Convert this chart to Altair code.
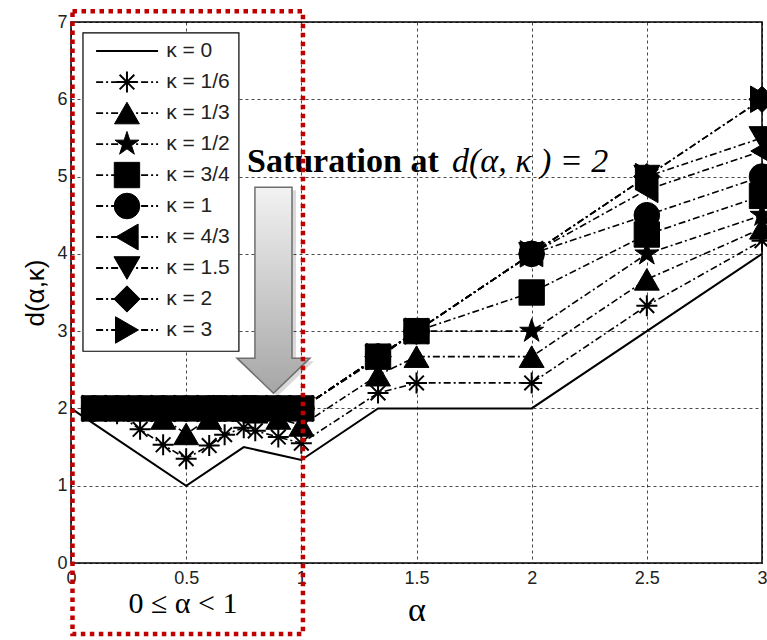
import altair as alt
import pandas as pd

# ---------------- data ----------------
kappa_labels = ["0", "1/6", "1/3", "1/2", "3/4", "1", "4/3", "1.5", "2", "3"]

alpha_k0 = [0.0, 0.5, 0.75, 1.0, 1.333, 2.0, 3.0]
d_k0 = [2.0, 1.0, 1.5, 1.333, 2.0, 2.0, 4.0]

alpha = [0.1, 0.2, 0.3, 0.4, 0.5, 0.6, 0.667, 0.75, 0.8, 0.9, 1.0, 1.333, 1.5, 2.0, 2.5, 3.0]
d_k1_6 = [2.0, 1.93, 1.73, 1.53, 1.35, 1.52, 1.66, 1.75, 1.71, 1.63, 1.55, 2.2, 2.33, 2.33, 3.33, 4.17]
d_k1_3 = [2.0, 2.0, 2.0, 1.87, 1.67, 1.87, 2.0, 2.0, 1.95, 1.87, 1.78, 2.43, 2.67, 2.67, 3.67, 4.33]
d_k1_2 = [2.0, 2.0, 2.0, 2.0, 2.0, 2.0, 2.0, 2.0, 2.0, 2.0, 2.0, 2.65, 3.0, 3.0, 4.0, 4.5]
d_k3_4 = [2.0, 2.0, 2.0, 2.0, 2.0, 2.0, 2.0, 2.0, 2.0, 2.0, 2.0, 2.67, 3.0, 3.5, 4.25, 4.75]
d_k1 = [2.0, 2.0, 2.0, 2.0, 2.0, 2.0, 2.0, 2.0, 2.0, 2.0, 2.0, 2.67, 3.0, 4.0, 4.5, 5.0]
d_k4_3 = [2.0, 2.0, 2.0, 2.0, 2.0, 2.0, 2.0, 2.0, 2.0, 2.0, 2.0, 2.67, 3.0, 4.0, 4.83, 5.33]
d_k1_5 = [2.0, 2.0, 2.0, 2.0, 2.0, 2.0, 2.0, 2.0, 2.0, 2.0, 2.0, 2.67, 3.0, 4.0, 5.0, 5.5]
d_k2 = [2.0, 2.0, 2.0, 2.0, 2.0, 2.0, 2.0, 2.0, 2.0, 2.0, 2.0, 2.67, 3.0, 4.0, 5.0, 6.0]
d_k3 = [2.0, 2.0, 2.0, 2.0, 2.0, 2.0, 2.0, 2.0, 2.0, 2.0, 2.0, 2.67, 3.0, 4.0, 5.0, 6.0]

x_ticks = [0, 0.5, 1, 1.5, 2, 2.5, 3]
y_ticks = [0, 1, 2, 3, 4, 5, 6, 7]

X_TITLE = "α"
Y_TITLE = "d(α,κ)"

# ---------------- tables ----------------
series = [d_k1_6, d_k1_3, d_k1_2, d_k3_4, d_k1, d_k4_3, d_k1_5, d_k2, d_k3]
rows = []
for lab, vals in zip(kappa_labels[1:], series):
    for a, d in zip(alpha, vals):
        rows.append({"alpha": a, "d": d, "kappa": lab})
df = pd.DataFrame(rows)
df0 = pd.DataFrame({"alpha": alpha_k0, "d": d_k0})

STAR = ("M0,-1L0.2245,-0.309L0.951,-0.309L0.363,0.118L0.588,0.809L0,0.382"
        "L-0.588,0.809L-0.363,0.118L-0.951,-0.309L-0.2245,-0.309Z")
ASTER = "M-1,0L1,0M0,-1L0,1M-0.7,-0.7L0.7,0.7M-0.7,0.7L0.7,-0.7"
ARROW = "M-0.18,-1L0.18,-1L0.18,0.66L0.354,0.66L0,1L-0.354,0.66L-0.18,0.66Z"

filled_labels = kappa_labels[2:]
shape_range = ["triangle-up", STAR, "square", "circle", "triangle-left",
               "triangle-down", "diamond", "triangle-right"]
size_range = [620, 700, 340, 560, 620, 620, 640, 620]

XS = alt.Scale(domain=[0, 3], nice=False)
YS = alt.Scale(domain=[0, 7], nice=False)

X_AXIS = alt.Axis(values=x_ticks, format="~g")
Y_AXIS = alt.Axis(values=y_ticks, format="d")


def X(f, **kw):
    return alt.X(f, type="quantitative", scale=XS, title=X_TITLE, axis=X_AXIS, **kw)


def Y(f, **kw):
    return alt.Y(f, type="quantitative", scale=YS, title=Y_TITLE, axis=Y_AXIS, **kw)


shape_enc = alt.Shape("kappa:N", scale=alt.Scale(domain=filled_labels, range=shape_range), legend=None)
size_enc = alt.Size("kappa:O", scale=alt.Scale(domain=filled_labels, range=size_range), legend=None)

DASHDOT = [7, 3, 2, 3]

base = alt.Chart(df0).mark_line(color="black", strokeWidth=2).encode(
    x=X("alpha"), y=Y("d")
)

lines = alt.Chart(df).mark_line(color="black", strokeWidth=1.6, strokeDash=DASHDOT).encode(
    x=X("alpha"), y=Y("d"), detail="kappa:N"
)

pts_aster = alt.Chart(df).transform_filter(alt.datum.kappa == "1/6").mark_point(
    shape=ASTER, filled=False, stroke="black", strokeWidth=2, size=440, opacity=1
).encode(x=X("alpha"), y=Y("d"))

pts_filled = alt.Chart(df).transform_filter(alt.datum.kappa != "1/6").mark_point(
    filled=True, fill="black", stroke="black", strokeWidth=1, opacity=1
).encode(x=X("alpha"), y=Y("d"), shape=shape_enc, size=size_enc)

# ---------------- legend (manual) ----------------
leg_top = 6.624
leg_step = 0.401
leg = pd.DataFrame({
    "kappa": kappa_labels,
    "ly": [leg_top - i * leg_step for i in range(len(kappa_labels))],
    "text": ["κ = " + k for k in kappa_labels],
})
leg["lx0"] = 0.109
leg["lx1"] = 0.378
leg["mx"] = 0.243
leg["tx"] = 0.413

leg_box = alt.Chart(pd.DataFrame({"x0": [0.052], "x1": [0.729], "y0": [2.74], "y1": [6.86]})).mark_rect(
    fill="white", stroke="black", strokeWidth=1.2
).encode(x=X("x0"), x2="x1", y=Y("y0"), y2="y1")

leg_solid = alt.Chart(leg).transform_filter(alt.datum.kappa == "0").mark_rule(
    color="black", strokeWidth=2).encode(x=X("lx0"), x2="lx1", y=Y("ly"))
leg_dash = alt.Chart(leg).transform_filter(alt.datum.kappa != "0").mark_rule(
    color="black", strokeWidth=1.8, strokeDash=DASHDOT).encode(x=X("lx0"), x2="lx1", y=Y("ly"))
leg_aster = alt.Chart(leg).transform_filter(alt.datum.kappa == "1/6").mark_point(
    shape=ASTER, filled=False, stroke="black", strokeWidth=2, size=440, opacity=1
).encode(x=X("mx"), y=Y("ly"))
leg_filled = alt.Chart(leg).transform_filter(
    (alt.datum.kappa != "1/6") & (alt.datum.kappa != "0")
).mark_point(filled=True, fill="black", stroke="black", strokeWidth=1, opacity=1).encode(
    x=X("mx"), y=Y("ly"), shape=shape_enc, size=size_enc)
leg_text = alt.Chart(leg).mark_text(
    align="left", baseline="middle", font="Liberation Sans", fontSize=21, color="#222222"
).encode(x=X("tx"), y=Y("ly"), text="text:N")

# ---------------- annotations ----------------
arrow_df = pd.DataFrame({"x": [0.879], "y": [3.53]})
arrow_shadow = alt.Chart(arrow_df).mark_point(
    shape=ARROW, size=42436, filled=True, fill="black", opacity=0.15, strokeWidth=0,
    xOffset=4, yOffset=3
).encode(x=X("x"), y=Y("y"))
arrow = alt.Chart(arrow_df).mark_point(
    shape=ARROW, size=42436, filled=True, opacity=1, stroke="#6e6e6e", strokeWidth=1.5,
    fill=alt.LinearGradient(gradient="linear", x1=0, y1=0, x2=0, y2=1,
                            stops=[alt.GradientStop(offset=0, color="#f2f2f2"),
                                   alt.GradientStop(offset=1, color="#a6a6a6")])
).encode(x=X("x"), y=Y("y"))

sat_df = pd.DataFrame({"x": [0.764, 1.654], "y": [5.06, 5.06],
                       "t": ["Saturation at", "d(α, κ ) = 2"]})
sat_bold = alt.Chart(sat_df.iloc[[0]]).mark_text(
    align="left", baseline="alphabetic", font="Liberation Serif", fontSize=34, fontWeight="bold",
    color="black").encode(x=X("x"), y=Y("y"), text="t:N")
sat_it = alt.Chart(sat_df.iloc[[1]]).mark_text(
    align="left", baseline="alphabetic", font="Liberation Serif", fontSize=34, fontStyle="italic",
    color="black").encode(x=X("x"), y=Y("y"), text="t:N")

range_df = pd.DataFrame({"x": [0.486], "y": [-0.53], "t": ["0 ≤ α < 1"]})
range_txt = alt.Chart(range_df).mark_text(
    align="center", baseline="middle", font="Liberation Serif", fontSize=30, color="black"
).encode(x=X("x"), y=Y("y"), text="t:N")

box_df = pd.DataFrame({"x0": [0.0065], "x1": [1.007], "y0": [-0.92], "y1": [7.14]})
red_box = alt.Chart(box_df).mark_rect(
    fillOpacity=0, stroke="#c00000", strokeWidth=4.5, strokeDash=[4.5, 4.5]
).encode(x=X("x0"), x2="x1", y=Y("y0"), y2="y1")

chart = alt.layer(
    base, lines, pts_aster, pts_filled,
    leg_box, leg_solid, leg_dash, leg_aster, leg_filled, leg_text,
    arrow_shadow, arrow, sat_bold, sat_it, range_txt, red_box
).properties(
    width=691, height=541,
    autosize=alt.AutoSizeParams(type="none"),
    padding={"left": 71, "top": 22, "right": 5, "bottom": 77},
    background="white",
).configure_view(
    stroke="black", strokeWidth=1.5
).configure_axis(
    grid=True, gridColor="black", gridDash=[3, 3], gridWidth=0.8, gridOpacity=0.9,
    domain=False, ticks=False, labelFlush=False,
    labelFont="Liberation Sans", labelFontSize=18, labelColor="#222222",
    titleColor="black", titleFontWeight="normal"
).configure_axisX(
    labelPadding=6, titleFont="Liberation Serif", titleFontSize=34, titlePadding=6
).configure_axisY(
    labelPadding=4, titleFont="Liberation Sans", titleFontSize=26, titlePadding=8
)

chart.save("out.html", embed_options={"renderer": "svg", "actions": False})
